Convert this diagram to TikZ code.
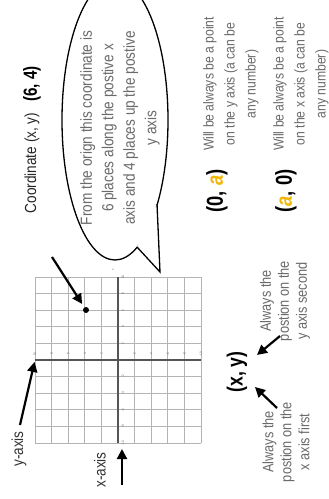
\documentclass[tikz,border=0pt]{standalone}
\usepackage{fontspec}
\setmainfont{Liberation Sans}[FakeStretch=0.85]
\newfontfamily\labelfont{Liberation Sans}[FakeStretch=0.8]
\usetikzlibrary{arrows.meta}
\definecolor{txtgray}{HTML}{6A6A6A}
\definecolor{gridgray}{HTML}{B4B4B4}
\definecolor{axisgray}{HTML}{555555}
\definecolor{gold}{HTML}{F2B705}
\tikzset{
  rtext/.style={rotate=90, inner sep=0pt, align=center},
  bigarrow/.style={line width=2.2pt, -{Triangle[length=10pt,width=10pt]}},
  gridline/.style={draw=gridgray, line width=0.7pt},
  axisline/.style={draw=axisgray, line width=1.4pt},
  ticklabel/.style={rotate=90, font=\fontsize{3.5}{4}\selectfont, text=txtgray, inner sep=0pt},
  desc/.style={rtext, text=txtgray},
  bubble/.style={line width=1.3pt},
  boldlabel/.style={rtext, font=\labelfont\bfseries\fontsize{#1}{#1}\selectfont},
}
\begin{document}
\begin{tikzpicture}[x=1pt,y=-1pt]
\useasboundingbox (0,0) rectangle (329,499);
\clip (0,0) rectangle (329,499);
\fill[white] (0,0) rectangle (329,499);

% grid
\foreach \i in {0,...,10} {
  \draw[gridline] ({35+16.6*\i},277) -- ({35+16.6*\i},443);
  \draw[gridline] (35,{277+16.6*\i}) -- (201,{277+16.6*\i});
}
\coordinate (xtop) at (118,277);
\coordinate (xbot) at (118,443);
\coordinate (yl) at (35,360);
\coordinate (yr) at (201,360);
\draw[axisline] (xbot) -- (xtop);
\draw[axisline] (yl) -- (yr);
\foreach \v/\k in {10/0,8/1,6/2,4/3,2/4,-2/6,-4/7,-6/8,-8/9,-10/10} {
  \node[ticklabel] (tx\k) at (123,{277+16.6*\k}) {\v};
  \node[ticklabel] (ty\k) at ({35+16.6*\k},354) {\v};
}
\node[ticklabel] (xlab) at (113,270) {x};

% point
\node[circle, fill=black, inner sep=0pt, minimum size=6pt] (pt) at (86,310) {};

% speech bubble
\draw[bubble, fill=white] (115,120) ellipse [x radius=53, y radius=140];
\coordinate (b1) at (137,247);
\coordinate (b2) at (157,204);
\coordinate (tip) at (160,272);
\fill[white] (b1) -- (tip) -- (b2) -- cycle;
\draw[bubble, line join=miter] (b1) -- (tip) -- (b2);
\node[desc, font=\fontsize{16}{21.5}\selectfont] (bubtxt) at (120,128)
  {From the orign this coordinate is\\ 6 places along the postive x\\ axis and 4 places up the postive\\ y axis};

% titles
\node[rtext, font=\fontsize{16}{20}\selectfont, text=black!85] (coordlbl) at (32,163) {Coordinate (x, y)};
\node[boldlabel=19] (six) at (32,84) {(6, 4)};

% arrow to point
\coordinate (a1s) at (52,257);
\draw[bigarrow, shorten >=4pt] (a1s) -- (pt);

% special points
\node[boldlabel=23] (zeroa) at (217,191) {(0, \textcolor{gold}{\itshape a})};
\node[desc, font=\fontsize{14.3}{21}\selectfont] (desc1) at (231,84)
  {Will be always be a point\\ on the y axis (a can be\\ any number)};
\node[boldlabel=23] (azero) at (286,191) {(\textcolor{gold}{\itshape a}, 0)};
\node[desc, font=\fontsize{14.3}{21}\selectfont] (desc2) at (301,84)
  {Will be always be a point\\ on the x axis (a can be\\ any number)};

% (x, y)
\node[boldlabel=22] (xy) at (237,372) {(x, y)};
\node[desc, font=\fontsize{15}{18}\selectfont] (ysec) at (285,301) {Always the\\ postion on the\\ y axis second};
\node[desc, font=\fontsize{15}{18}\selectfont] (xfirst) at (286,442) {Always the\\ postion on the\\ x axis first};
\coordinate (s1) at (280,336);
\coordinate (t1) at (257,355);
\coordinate (s2) at (277,408);
\coordinate (t2) at (255,387);
\draw[bigarrow] (s1) -- (t1);
\draw[bigarrow] (s2) -- (t2);

% axis labels
\node[rtext, font=\fontsize{16}{20}\selectfont, text=black!80] (ylab) at (19,449) {y-axis};
\node[rtext, font=\fontsize{16}{20}\selectfont, text=black!80] (xlabel) at (100,470) {x-axis};
\coordinate (yas) at (20,425);
\draw[bigarrow, shorten >=2pt] (yas) -- (yl);
\coordinate (xas) at (122,485);
\coordinate (xtip) at (122,449);
\draw[bigarrow] (xas) -- (xtip);
\end{tikzpicture}
\end{document}
